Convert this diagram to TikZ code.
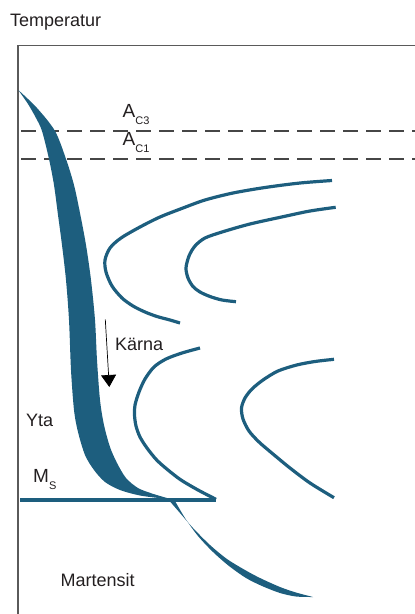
\documentclass[tikz,border=0pt]{standalone}
\usepackage{fontspec}
\setmainfont{Liberation Sans}
\usetikzlibrary{arrows.meta}
\definecolor{steelblue}{RGB}{29,94,126}
\definecolor{txt}{RGB}{35,31,32}
\definecolor{framegray}{RGB}{90,90,90}
\definecolor{dashgray}{RGB}{70,70,70}
\begin{document}
\begin{tikzpicture}[x=1pt,y=-1pt,
  lbl/.style={inner sep=0pt,anchor=base west,text=txt,font=\fontsize{18}{20}\selectfont},
  sym/.style={inner sep=0pt,anchor=base west,text=txt,font=\fontsize{19}{21}\selectfont},
  ccurve/.style={draw=steelblue,line width=3.2pt},
  dashline/.style={draw=dashgray,line width=1.1pt,dash pattern=on 15pt off 8pt},
  frameline/.style={draw=framegray,line width=1.3pt}]
\useasboundingbox (0,0) rectangle (415,614);
% frame
\coordinate (fo) at (18,45.5);
\coordinate (fr) at (415,45.5);
\coordinate (fb) at (18,614);
\draw[frameline] (fr) -- (fo) -- (fb);
% dashed levels
\coordinate (d1a) at (21,131); \coordinate (d1b) at (415,131);
\coordinate (d2a) at (21,159); \coordinate (d2b) at (415,159);
\draw[dashline] (d1a) -- (d1b);
\draw[dashline] (d2a) -- (d2b);
% labels
\node[lbl] (temp) at (10,26) {Temperatur};
\node[sym] (ac3) at (122.5,117) {A{\fontsize{11}{11}\selectfont\raisebox{-7pt}{C3}}};
\node[sym] (ac1) at (122.5,145) {A{\fontsize{11}{11}\selectfont\raisebox{-7pt}{C1}}};
\node[lbl] (karna) at (115,350.5) {Kärna};
\node[lbl] (yta) at (26,426) {Yta};
\node[sym] (ms) at (33,482) {M{\fontsize{11}{11}\selectfont\raisebox{-7pt}{S}}};
\node[lbl] (mart) at (60.5,586.5) {Martensit};
% cooling band (surface to core)
\fill[steelblue] plot[smooth] coordinates {(18.3,90) (28,104) (36,118) (42,131) (49,159) (54,185) (58,215) (62,245) (66,280) (69,320) (71,370) (74,410) (78,432) (85,455) (94,470) (105,482) (120,490) (140,495.5) (163,498.5)}
  -- plot[smooth] coordinates {(167,498) (152,493.5) (138,488) (126,478) (117,463) (110,447) (104,425) (100,400) (97,360) (95,320) (91,280) (86,245) (80,213) (74,185) (66,159) (55,131) (37,108) (18.3,90)} -- cycle;
% lower band
\fill[steelblue] plot[smooth] coordinates {(167,498) (180,513) (193,528) (210,545) (227,559) (245,570) (260,578) (280,587) (296,592.5) (313,597)}
  -- plot[smooth] coordinates {(313,597) (296,596.5) (280,593) (262,586) (246,578) (229,566) (213,552) (198,536) (185,518) (175,501)} -- cycle;
% Ms line
\coordinate (msa) at (20,500); \coordinate (msb) at (216,500);
\draw[steelblue,line width=3.2pt] (msa) -- (msb);
% C curves
\draw[ccurve] plot[smooth] coordinates {(332,180.5) (300,183) (265,187.5) (233,193) (205,200) (183,208) (160,217) (140,227) (121,238) (110,248) (105,260) (106,272) (112,286) (122,298) (133,306) (145,312) (157,316.5) (170,320) (180,323)};
\draw[ccurve] plot[smooth] coordinates {(335.7,207.3) (310,211) (283,216.7) (250,224) (223,231.7) (205,238) (195,246) (189,256) (186,268) (188,278) (193,286.5) (200,292) (210,296.5) (222,300) (236,301.7)};
\draw[ccurve] plot[smooth] coordinates {(200,348) (182,353) (166,359) (154,367) (145,379) (139,392) (135,405) (134.5,415) (136,426) (140,437) (147,448) (156.7,460) (168,470) (181,480) (198,490) (216,499.3)};
\draw[ccurve] plot[smooth] coordinates {(334,359.3) (315,361.5) (296.7,365) (278,371) (263,380) (252,389) (245,398) (241.5,408) (243,419) (249,431) (259,442) (273,454) (290,468) (310,483) (334,497.7)};
% arrow
\coordinate (ar1) at (105.3,319.5);
\coordinate (ar2) at (109.3,387);
\draw[black,line width=0.7pt,-{Triangle[width=15pt,length=12pt]}] (ar1) -- (ar2);
\end{tikzpicture}
\end{document}
